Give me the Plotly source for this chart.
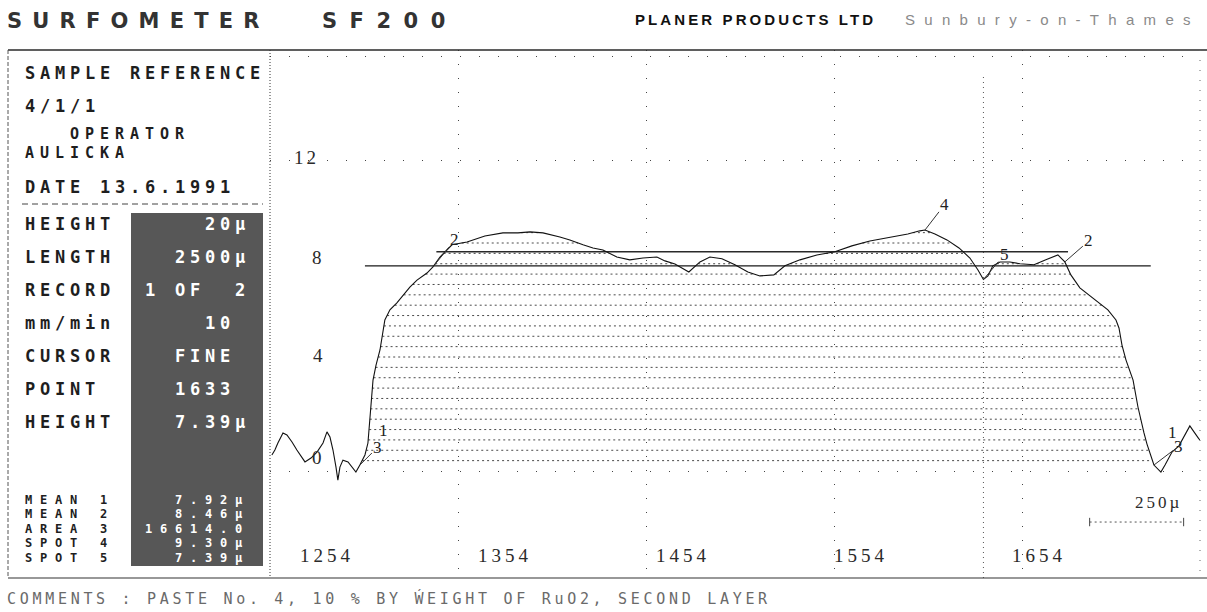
import numpy as np
import plotly.graph_objects as go

W, H = 1207, 612

# Surface profile: scan position (point number) and height (µm)
profile_x = [1254.5, 1256.1, 1257.7, 1260.4, 1262.5, 1265.2, 1267.8, 1270.5, 1272.1, 1275.3,
             1278.5, 1281.7, 1283.8, 1285.4, 1287.0, 1288.6, 1289.6, 1290.7, 1292.3, 1295.0,
             1297.6, 1299.2, 1301.3, 1304.0, 1305.6, 1306.2, 1306.7, 1307.2, 1308.3, 1309.9,
             1312.0, 1314.6, 1317.3, 1321.0, 1327.9, 1331.7, 1337.0, 1340.2, 1343.9, 1347.6,
             1350.3, 1358.3, 1367.8, 1377.4, 1385.4, 1391.8, 1398.7, 1407.7, 1413.0, 1420.0,
             1425.3, 1430.6, 1438.0, 1444.9, 1451.9, 1459.3, 1463.6, 1468.9, 1476.3, 1482.2,
             1487.5, 1493.9, 1500.8, 1507.7, 1514.1, 1521.5, 1527.4, 1535.4, 1544.4, 1554.0,
             1563.0, 1572.6, 1583.3, 1592.8, 1599.2, 1601.9, 1607.2, 1613.6, 1620.0, 1625.8,
             1630.1, 1633.0, 1635.4, 1638.0, 1641.8, 1647.1, 1652.4, 1659.9, 1666.2, 1672.6,
             1676.3, 1679.5, 1684.3, 1691.8, 1699.2, 1703.5, 1705.1, 1706.7, 1708.8, 1712.6,
             1715.2, 1718.4, 1720.0, 1723.7, 1727.4, 1729.6, 1733.3, 1737.0, 1740.2, 1742.8,
             1745.0, 1747.6, 1749.7]
profile_y = [0.62, 0.81, 1.08, 1.47, 1.39, 1.12, 0.81, 0.50, 0.35, 0.50,
             0.73, 1.08, 1.51, 1.31, 0.81, 0.15, -0.35, 0.15, 0.42, 0.35,
             0.12, -0.04, 0.23, 0.62, 1.08, 1.58, 2.24, 2.74, 3.51, 4.09,
             4.67, 5.83, 6.22, 6.49, 7.10, 7.37, 7.64, 7.88, 8.26, 8.53,
             8.73, 8.84, 9.07, 9.19, 9.19, 9.23, 9.19, 9.03, 8.92, 8.73,
             8.61, 8.53, 8.26, 8.15, 8.22, 8.26, 8.11, 7.99, 7.68, 8.07,
             8.26, 8.19, 7.96, 7.68, 7.53, 7.57, 7.92, 8.15, 8.34, 8.46,
             8.69, 8.88, 9.03, 9.15, 9.27, 9.30, 9.15, 8.92, 8.61, 8.22,
             7.76, 7.39, 7.53, 7.92, 8.07, 8.07, 8.00, 7.96, 8.15, 8.34,
             8.07, 7.57, 7.07, 6.64, 6.22, 5.83, 5.52, 4.86, 4.29, 3.51,
             2.47, 1.47, 1.04, 0.23, -0.04, 0.23, 0.73, 0.97, 1.39, 1.74,
             1.51, 1.24, 1.12]

# Measurement results
mean1_value = 7.92
mean2_value = 8.46
area3_value = 16614.0
spot4_value = 9.30
spot5_value = 7.39
cursor_point = 1633
mean1_span = [1304.0, 1722.0]
mean2_span = [1342.0, 1678.0]
area3_span = [1301.0, 1724.0]

# Axes
x_range = [1253.5, 1748.2]
y_range = [-4.13, 16.25]
grid_x = [1354, 1454, 1554, 1654]
grid_y = [0, 12, 16]
x_tick_labels = [1254, 1354, 1454, 1554, 1654]
y_tick_labels = [12, 8, 4, 0]

length_um = 2500
record_points = 500
scale_bar_um = 250
scale_bar_end = 1739.5

MONO = "DejaVu Sans Mono"
SERIF = "Liberation Serif"
SANS = "Liberation Sans"
INK = "#1e1e1e"


def fx(p):
    return p / W


def fy(p):
    return 1 - p / H


annotations = []
shapes = []


def text(x, y, s, size, color=INK, family=MONO, spacing=0, bold=False, anchor="left"):
    body = f'<span style="letter-spacing:{spacing}px">{s}</span>' if spacing else s
    annotations.append(dict(
        x=fx(x), y=fy(y), xref="paper", yref="paper", text=body, showarrow=False,
        xanchor=anchor, yanchor="middle", borderpad=0,
        font=dict(size=size, color=color, family=family, weight="bold" if bold else "normal")))


def line(x0, y0, x1, y1, color="#222", width=1, dash="solid"):
    shapes.append(dict(type="line", xref="paper", yref="paper", x0=fx(x0), y0=fy(y0),
                       x1=fx(x1), y1=fy(y1), line=dict(color=color, width=width, dash=dash)))


# ---- heading -------------------------------------------------------------
text(6, 21, "SURFOMETER", 21, "#333", "DejaVu Sans", 10.2, True)
text(321, 21, "SF200", 21, "#333", "DejaVu Sans", 12.5, True)
text(634, 20, "PLANER PRODUCTS LTD", 15, "#111", SANS, 3.1, True)
text(904, 20, "Sunbury-on-Thames", 15, "#8a8a8a", SANS, 9.3)

# ---- frame ---------------------------------------------------------------
line(8, 50, 1207, 50, "#2a2a2a", 1.6)
line(8, 578, 1207, 578, "#333", 1.2)
line(8, 50, 8, 578, "#555", 1, "4px,2px")
line(270, 50, 270, 578, "#333", 1, "1px,2px")
line(1200, 50, 1200, 578, "#666", 1, "1px,9px")

# ---- sample panel --------------------------------------------------------
shapes.append(dict(type="rect", xref="paper", yref="paper", x0=fx(131), x1=fx(263),
                   y0=fy(566), y1=fy(213), fillcolor="#575757", line=dict(width=0),
                   layer="below"))
line(22, 204, 263, 204, "#444", 1, "6px,4px")

PITCH = 15
SP17 = PITCH - 0.602 * 17
SP15 = PITCH - 0.602 * 15
SP12 = PITCH - 0.602 * 12

text(24, 73, "SAMPLE REFERENCE", 17, INK, MONO, SP17, True)
text(24, 106, "4/1/1", 17, INK, MONO, SP17, True)
text(24 + 3 * PITCH, 134, "OPERATOR", 15, INK, MONO, SP15, True)
text(24, 153, "AULICKA", 15, INK, MONO, SP15, True)
text(24, 187, "DATE 13.6.1991", 17, INK, MONO, SP17, True)

panel_rows = [
    ("HEIGHT", "20µ", 224, 12),
    ("LENGTH", f"{length_um}µ", 257, 10),
    ("RECORD", "1 OF  2", 290, 8),
    ("mm/min", "10", 323, 12),
    ("CURSOR", "FINE", 356, 10),
    ("POINT", f"{cursor_point}", 389, 10),
    ("HEIGHT", f"{spot5_value:.2f}µ", 422, 10),
]
for lab, val, yy, col in panel_rows:
    text(24, yy, lab, 17, INK, MONO, SP17, True)
    text(24 + col * PITCH, yy, val, 17, "white", MONO, SP17, True)

result_rows = [
    ("MEAN 1", f"{mean1_value:.2f}µ", 10),
    ("MEAN 2", f"{mean2_value:.2f}µ", 10),
    ("AREA 3", f"{area3_value:.1f}", 8),
    ("SPOT 4", f"{spot4_value:.2f}µ", 10),
    ("SPOT 5", f"{spot5_value:.2f}µ", 10),
]
for i, (lab, val, col) in enumerate(result_rows):
    yy = 500 + i * 14.4
    text(24, yy, lab, 12, INK, MONO, SP12, True)
    text(24 + col * PITCH, yy, val, 12, "white", MONO, SP12, True)

# ---- comment line --------------------------------------------------------
text(6, 598, "COMMENTS : PASTE No. 4, 10 % BY ẂEIGHT OF RuO2, SECOND LAYER", 15, "#6a6a6a",
     MONO, 3.7)

# ---- axis labels ---------------------------------------------------------
for i, v in enumerate(x_tick_labels):
    text(299 + i * 178, 555, str(v), 19, "#2a2a2a", SERIF, 4)
y_label_pos = {12: (306, 157), 8: (318, 257), 4: (319, 355), 0: (318, 457)}
for v in y_tick_labels:
    xx, yy = y_label_pos[v]
    text(xx, yy, str(v), 19, "#2a2a2a", SERIF, 3, anchor="center")

# ---- plot ----------------------------------------------------------------
fig = go.Figure()

# horizontal hatching under the profile within the area-3 span
xs = np.linspace(area3_span[0], area3_span[1], 4000)
ys = np.interp(xs, profile_x, profile_y)
hx, hy = [], []
for lv in np.arange(0.4, 9.3, 0.4):
    above = np.r_[0, (ys > lv).astype(int), 0]
    edges = np.flatnonzero(np.diff(above))
    for s, e in zip(edges[::2], edges[1::2]):
        hx += [xs[s], xs[e - 1], None]
        hy += [lv, lv, None]
fig.add_trace(go.Scatter(x=hx, y=hy, mode="lines", hoverinfo="skip",
                         line=dict(color="#4a4a4a", width=1, dash="2px,3px")))

# cursor
fig.add_trace(go.Scatter(x=[cursor_point, cursor_point], y=[y_range[0], 15.3], mode="lines",
                         line=dict(color="#555", width=1, dash="1px,4px"), hoverinfo="skip"))

# mean levels
fig.add_trace(go.Scatter(x=mean1_span, y=[mean1_value] * 2, mode="lines",
                         line=dict(color="#1a1a1a", width=1.3)))
fig.add_trace(go.Scatter(x=mean2_span, y=[mean2_value] * 2, mode="lines",
                         line=dict(color="#2a2a2a", width=1.6)))

# profile
fig.add_trace(go.Scatter(x=profile_x, y=profile_y, mode="lines",
                         line=dict(color="#111", width=1.1)))

# scale bar
bar_len = scale_bar_um * record_points / length_um
fig.add_trace(go.Scatter(x=[scale_bar_end - bar_len, scale_bar_end], y=[-1.97, -1.97],
                         mode="lines+markers",
                         line=dict(color="#555", width=1, dash="2px,3px"),
                         marker=dict(symbol="line-ns", size=6,
                                     line=dict(color="#444", width=1))))
annotations.append(dict(x=scale_bar_end, y=-1.97, xref="x", yref="y", showarrow=False,
                        xanchor="right", yanchor="bottom", yshift=8,
                        text=f'<span style="letter-spacing:3px">{scale_bar_um}µ</span>',
                        font=dict(size=17, color="#2a2a2a", family=SERIF)))

# cursor / feature markers
marks = [
    ("3", 1301.3, 0.23, 18, -18, True),
    ("1", 1306.2, 1.58, 14, 0, False),
    ("2", 1340.2, 7.88, 22, -27, True),
    ("4", 1601.9, spot4_value, 20, -26, True),
    ("5", cursor_point, spot5_value, 21, -25, True),
    ("2", 1676.3, 8.07, 24, -21, True),
    ("3", 1723.7, 0.23, 25, -19, True),
    ("1", 1729.6, 0.23, 7, -33, False),
]
for lab, mx, my, ax, ay, arrow in marks:
    a = dict(x=mx, y=my, xref="x", yref="y", text=lab,
             font=dict(size=17, color="#222", family=SERIF))
    if arrow:
        a.update(showarrow=True, ax=ax, ay=ay, arrowhead=0, arrowwidth=1,
                 arrowcolor="#333", standoff=0)
    else:
        a.update(showarrow=False, xshift=ax, yshift=-ay)
    annotations.append(a)

fig.update_layout(
    width=W, height=H, margin=dict(l=0, r=0, t=0, b=0),
    paper_bgcolor="white", plot_bgcolor="white", showlegend=False,
    xaxis=dict(domain=[fx(270), fx(1200)], range=x_range, tickvals=grid_x,
               showticklabels=False, ticks="", showgrid=True, gridcolor="#444",
               gridwidth=1, griddash="1px,13px", zeroline=False, showline=False),
    yaxis=dict(domain=[fy(578), fy(50)], range=y_range, tickvals=grid_y,
               showticklabels=False, ticks="", showgrid=True, gridcolor="#444",
               gridwidth=1, griddash="1px,18px", zeroline=False, showline=False),
    annotations=annotations, shapes=shapes,
)

fig.write_html("out.html")
